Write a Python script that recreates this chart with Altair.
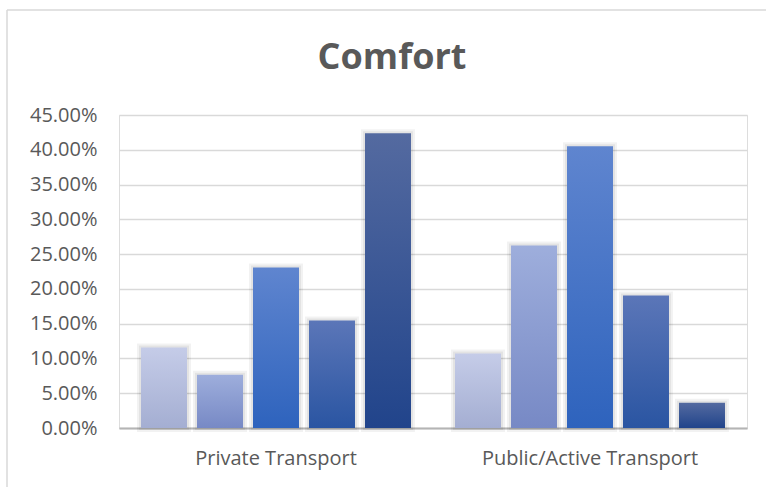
import altair as alt
import pandas as pd

# ---- data ----
categories = ["Private Transport", "Public/Active Transport"]
series = ["Series 1", "Series 2", "Series 3", "Series 4", "Series 5"]
private_values = [0.1156, 0.0767, 0.2307, 0.1544, 0.4236]
public_values = [0.1070, 0.2624, 0.4050, 0.1905, 0.0364]
y_ticks = [0.0, 0.05, 0.10, 0.15, 0.20, 0.25, 0.30, 0.35, 0.40, 0.45]
title_text = "Comfort"

# gradient colours (top -> bottom) for each series
top_colors = ["#c5cce8", "#9eaedc", "#5f85cf", "#5b76b8", "#546aa0"]
bottom_colors = ["#a4aed2", "#7789c5", "#2e63bd", "#2a55a2", "#21448b"]

rows = []
for cat, vals in zip(categories, [private_values, public_values]):
    for s, v in zip(series, vals):
        rows.append({"category": cat, "series": s, "value": v})
df = pd.DataFrame(rows)

FONT = "Open Sans"
TEXT = "#595959"

x_enc = alt.X(
    "category:N",
    scale=alt.Scale(domain=categories, paddingInner=0, paddingOuter=0),
    axis=alt.Axis(
        title=None, labelAngle=0, ticks=False, domain=True,
        domainColor="#b4b4b4", domainWidth=2, labelLimit=0,
        labelFont=FONT, labelFontSize=20, labelColor=TEXT, labelPadding=20,
    ),
)
xo_enc = alt.XOffset(
    "series:N",
    scale=alt.Scale(domain=series, paddingInner=10 / 56, paddingOuter=0.393),
)
y_enc = alt.Y(
    "value:Q",
    scale=alt.Scale(domain=[0, 0.45], nice=False, zero=True),
    axis=alt.Axis(
        title=None, format=".2%", values=y_ticks, grid=True,
        gridColor="#d9d9d9", gridWidth=1.5, domain=False, ticks=False,
        labelFont=FONT, labelFontSize=20, labelColor=TEXT, labelPadding=22,
    ),
)

base = alt.Chart(df)

# soft shadow halo behind the bars
halo = base.mark_bar(
    fillOpacity=0, stroke="#000000", strokeOpacity=0.05, strokeWidth=8
).encode(x=x_enc, xOffset=xo_enc, y=y_enc)
halo2 = base.mark_bar(
    fillOpacity=0, stroke="#000000", strokeOpacity=0.06, strokeWidth=4
).encode(x=x_enc, xOffset=xo_enc, y=y_enc)

layers = [halo, halo2]
for s, c_top, c_bot in zip(series, top_colors, bottom_colors):
    layers.append(
        base.transform_filter(alt.datum.series == s)
        .mark_bar(
            color=alt.Gradient(
                gradient="linear",
                stops=[alt.GradientStop(color=c_top, offset=0),
                       alt.GradientStop(color=c_bot, offset=1)],
                x1=0, x2=0, y1=0, y2=1,
            )
        )
        .encode(x=x_enc, xOffset=xo_enc, y=y_enc)
    )

# chart-area frame (decoration) and title
frame_df = pd.DataFrame({"k": [0]})
frame_top = alt.Chart(frame_df).mark_rule(color="#d9d9d9", strokeWidth=1.5).encode(
    x=alt.value(-112), x2=alt.value(660), y=alt.value(-105)
)
frame_left = alt.Chart(frame_df).mark_rule(color="#d9d9d9", strokeWidth=1.5).encode(
    x=alt.value(-112), y=alt.value(-105), y2=alt.value(380)
)
title = alt.Chart(frame_df).mark_text(
    text=title_text, font=FONT, fontSize=36, fontWeight="bold", color=TEXT,
    align="center", baseline="alphabetic",
).encode(x=alt.value(273), y=alt.value(-46))

chart = (
    alt.layer(frame_top, frame_left, title, *layers)
    .properties(
        width=628,
        height=313,
        autosize=alt.AutoSizeParams(type="none"),
        padding={"left": 119, "top": 115, "right": 19, "bottom": 59},
    )
    .configure_view(stroke=None)
    .configure(background="white")
)

chart.save("out.html", embed_options={"renderer": "svg", "actions": False})
